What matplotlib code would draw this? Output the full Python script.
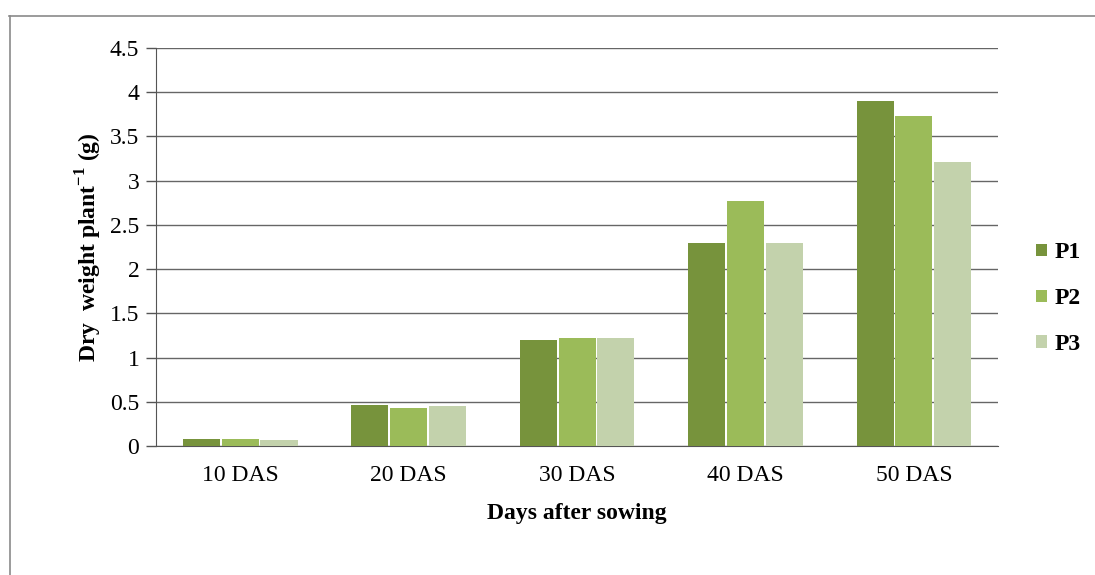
import numpy as np
import matplotlib.pyplot as plt
from matplotlib.lines import Line2D

plt.rcParams['font.family'] = ['Liberation Serif', 'DejaVu Serif']
plt.rcParams['mathtext.fontset'] = 'custom'
plt.rcParams['mathtext.rm'] = 'Liberation Serif'
plt.rcParams['mathtext.bf'] = 'Liberation Serif:bold'

# Dados
dias = ['10 DAS', '20 DAS', '30 DAS', '40 DAS', '50 DAS']
p1 = [0.08, 0.46, 1.20, 2.30, 3.90]
p2 = [0.08, 0.43, 1.22, 2.77, 3.73]
p3 = [0.07, 0.45, 1.22, 2.30, 3.21]
series = ['P1', 'P2', 'P3']
cores = ['#77933c', '#9bbb59', '#c3d2ac']

fig = plt.figure(figsize=(10.95, 5.75), dpi=100)
ax = fig.add_axes([0.1425, 0.2243, 0.769, 0.6922])

# moldura externa (só topo e esquerda aparecem)
fig.add_artist(Line2D([0.008, 1.0], [0.972, 0.972], transform=fig.transFigure,
                      color='#8a8a8a', linewidth=1.2))
fig.add_artist(Line2D([0.009, 0.009], [0.0, 0.972], transform=fig.transFigure,
                      color='#8a8a8a', linewidth=1.2))

x = np.arange(len(dias))
larg = 0.22
for k, (vals, nome, cor) in enumerate(zip([p1, p2, p3], series, cores)):
    ax.bar(x + (k - 1) * (larg + 0.01), vals, larg, color=cor, label=nome, zorder=3)

ax.set_xlim(-0.5, len(dias) - 0.5)
ax.set_ylim(0, 4.5)
ax.set_yticks(np.arange(0, 4.51, 0.5))
ax.set_yticklabels(['0', '0.5', '1', '1.5', '2', '2.5', '3', '3.5', '4', '4.5'])
ax.set_xticks(x)
ax.set_xticklabels(dias)
ax.tick_params(axis='x', length=0, labelsize=17, pad=14)
ax.tick_params(axis='y', length=7, width=1, color='#555555', labelsize=17, pad=5)
ax.yaxis.grid(True, color='#666666', linewidth=1, zorder=0)
ax.set_axisbelow(True)
for s in ['top', 'right']:
    ax.spines[s].set_visible(False)
ax.spines['left'].set_color('#555555')
ax.spines['bottom'].set_color('#555555')

ax.set_ylabel('Dry  weight plant$^{\\mathbf{-1}}$ (g)', fontsize=17, fontweight='bold', labelpad=4)
ax.set_xlabel('Days after sowing', fontsize=17, fontweight='bold', labelpad=12)

leg = ax.legend(loc='center left', bbox_to_anchor=(1.02, 0.37), frameon=False, fontsize=17,
                handlelength=0.45, handleheight=0.45, handletextpad=0.35, labelspacing=1.05)
for t in leg.get_texts():
    t.set_fontweight('bold')

plt.savefig('out.png', dpi=100)
